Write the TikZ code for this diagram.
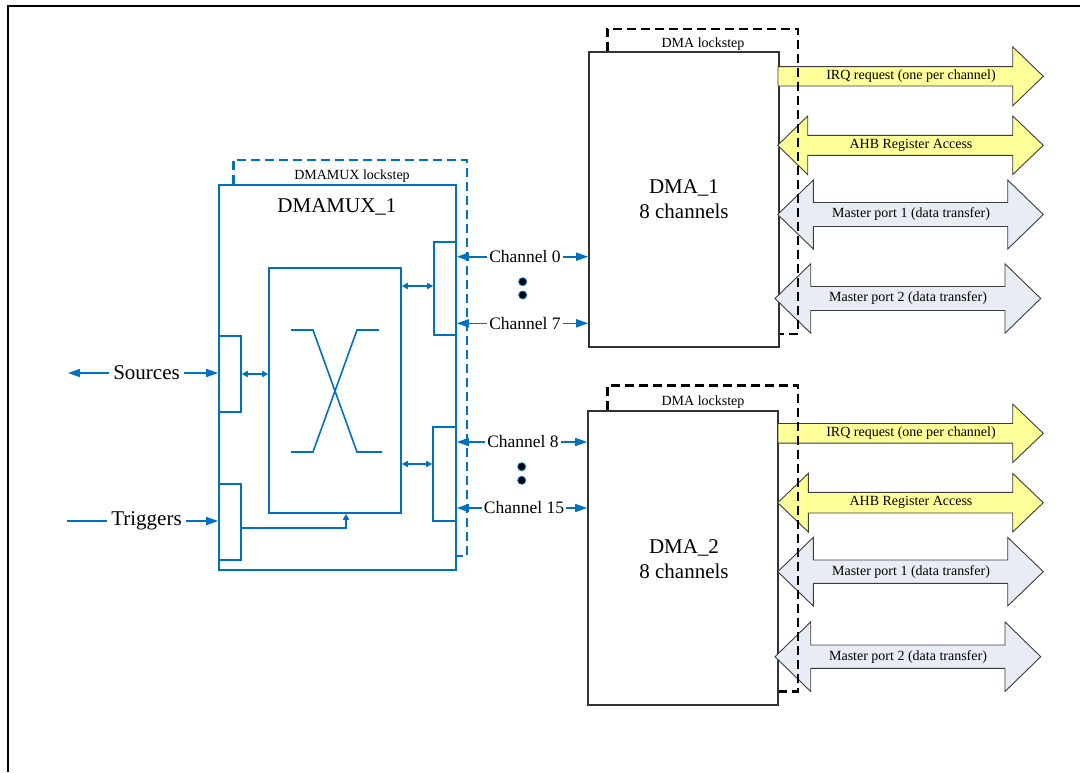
\documentclass[tikz,border=0pt]{standalone}
\usepackage{fontspec}
\setmainfont{Liberation Serif}
\usetikzlibrary{arrows.meta,calc}
\definecolor{mblue}{RGB}{0,112,192}
\definecolor{yfill}{RGB}{255,255,153}
\definecolor{gfill}{RGB}{232,237,245}
\definecolor{aline}{RGB}{60,60,60}
% double block arrow: style, x1 x2 x3 x4, yc, half body, half head
\newcommand\mydblarrow[8]{%
  \draw[#1] (#2,#6) -- (#3,{#6-#8}) -- (#3,{#6-#7}) -- (#4,{#6-#7}) -- (#4,{#6-#8})
    -- (#5,#6) -- (#4,{#6+#8}) -- (#4,{#6+#7}) -- (#3,{#6+#7}) -- (#3,{#6+#8}) -- cycle;}
% single block arrow: style, x1 x3 x4, yc, half body, half head
\newcommand\mysglarrow[7]{%
  \draw[#1] (#2,{#5-#6}) -- (#3,{#5-#6}) -- (#3,{#5-#7}) -- (#4,#5)
    -- (#3,{#5+#7}) -- (#3,{#5+#6}) -- (#2,{#5+#6}) -- cycle;}
\begin{document}
\begin{tikzpicture}[x=1pt,y=-1pt,
  bl/.style={draw=mblue, line width=1.6pt},
  mbox/.style={bl, rectangle, inner sep=0pt},
  bdash/.style={draw=mblue, line width=2.6pt, dash pattern=on 9pt off 5pt},
  kdash/.style={draw=black, line width=2.6pt, dash pattern=on 9pt off 5pt},
  kbox/.style={draw=black!80, line width=1.6pt, rectangle, inner sep=0pt},
  arrbig/.style={bl, -{Triangle[length=12pt,width=8pt]}},
  arrsm/.style={bl, {Triangle[length=6pt,width=6pt]}-{Triangle[length=6pt,width=6pt]}},
  arrup/.style={bl, -{Triangle[length=6pt,width=6pt]}},
  yarr/.style={fill=yfill, draw=aline, line width=0.9pt, line join=miter},
  garr/.style={fill=gfill, draw=aline, line width=0.9pt, line join=miter},
  big/.style={font=\fontsize{21}{25}\selectfont, align=center},
  chl/.style={font=\fontsize{17.5}{20}\selectfont, inner sep=2pt},
  sml/.style={font=\fontsize{14}{16}\selectfont, inner sep=1pt},
  iol/.style={font=\fontsize{21}{25}\selectfont, inner sep=4pt},
  dotn/.style={circle, fill=black, draw=mblue, line width=0.8pt, minimum size=8pt, inner sep=0pt}
]
\useasboundingbox (0,0) rectangle (1080,772);
% frame
\draw[line width=2pt] (8,772) -- (8,6) -- (1080,6);

% ---------------- DMAMUX ----------------
\node[mbox, minimum width=237pt, minimum height=385pt] (mux) at (337.5,377.5) {};
\node[mbox, minimum width=132pt, minimum height=245pt] (xbar) at (335,390.5) {};
\node[mbox, minimum width=22pt, minimum height=93pt] (pur) at (445,288.5) {};
\node[mbox, minimum width=23pt, minimum height=94pt] (plr) at (444.5,474) {};
\node[mbox, minimum width=22pt, minimum height=76pt] (psrc) at (230,374) {};
\node[mbox, minimum width=22pt, minimum height=76pt] (ptrg) at (230,522) {};
\node[big] (muxt) at (337,207) {DMAMUX\_1};
\node[sml] (muxls) at (352,176) {DMAMUX lockstep};
\draw[bdash] ([xshift=15pt]mux.north west) |- (467,160) |- ([yshift=15pt]mux.south east);

% crossbar symbol
\draw[bl] (291,330) -- (313,330) -- (357,452) -- (382,452);
\draw[bl] (291,452) -- (313,452) -- (357,330) -- (379,330);

% internal arrows
\draw[arrsm] (xbar.east |- 0,286) -- (pur.west |- 0,286);
\draw[arrsm] (xbar.east |- 0,464) -- (plr.west |- 0,464);
\draw[arrsm] (psrc.east) -- (xbar.west |- psrc.east);
\draw[arrup] ([yshift=-6pt]ptrg.east) -| ([xshift=11pt]xbar.south);

% sources / triggers
\node[iol] (src) at (146.5,373) {Sources};
\node[iol] (trg) at (146.5,521) {Triggers};
\coordinate (srcout) at (68,373);
\coordinate (trgin) at (67,521);
\draw[arrbig] (src.west) -- (srcout);
\draw[arrbig] (src.east) -- (psrc.west |- src.east);
\draw[bl] (trgin) -- (trg.west);
\draw[arrbig] (trg.east) -- (ptrg.west |- trg.east);

% ---------------- DMA boxes ----------------
\node[kbox, minimum width=190pt, minimum height=295pt] (dma1) at (684,199.5) {};
\node[kbox, minimum width=190pt, minimum height=294pt] (dma2) at (683,558) {};
\node[big] (dma1t) at (684,199.5) {DMA\_1\\8 channels};
\node[big] (dma2t) at (684,559.5) {DMA\_2\\8 channels};
\node[sml] (ls1) at (703,44) {DMA lockstep};
\node[sml] (ls2) at (703,401.7) {DMA lockstep};

% channels
\node[chl] (ch0) at (525,256.7) {Channel 0};
\node[chl] (ch7) at (525,323.3) {Channel 7};
\node[chl] (ch8) at (523,442) {Channel 8};
\node[chl] (ch15) at (524,508) {Channel 15};
\foreach \c/\d in {ch0/dma1, ch7/dma1, ch8/dma2, ch15/dma2}{
  \draw[arrbig] (\c.west) -- (mux.east |- \c.west);
  \draw[arrbig] (\c.east) -- (\d.west |- \c.east);
}
\node[dotn] (dt1) at (522.7,281.7) {};
\node[dotn] (dt2) at (522.7,295) {};
\node[dotn] (dt3) at (521.7,466.7) {};
\node[dotn] (dt4) at (521.7,480.3) {};

% ---------------- block arrows DMA_1 ----------------
\mysglarrow{yarr}{778}{1012.7}{1043.3}{76.3}{9.7}{29.5}
\mydblarrow{yarr}{777.7}{807.7}{1012.7}{1043.3}{145.3}{10}{29.3}
\mydblarrow{garr}{777.7}{813.3}{1007.7}{1043.3}{214.5}{12}{34.5}
\mydblarrow{garr}{775}{810.7}{1005}{1040.7}{298.5}{12}{34.7}
\node[sml] (irq1) at (911,76.3) {IRQ request (one per channel)};
\node[sml] (ahb1) at (911,145.3) {AHB Register Access};
\node[sml] (mp11) at (911,214.5) {Master port 1 (data transfer)};
\node[sml] (mp21) at (908,298.5) {Master port 2 (data transfer)};

% ---------------- block arrows DMA_2 ----------------
\mysglarrow{yarr}{778}{1012.7}{1043.3}{433.3}{9.8}{29.2}
\mydblarrow{yarr}{777.7}{808.3}{1012.7}{1043.3}{502.7}{10.3}{29.3}
\mydblarrow{garr}{777.7}{813.3}{1007.7}{1043.3}{571.7}{11.7}{34.3}
\mydblarrow{garr}{775}{810.7}{1005}{1040.7}{656.7}{11.7}{34.8}
\node[sml] (irq2) at (911,433.3) {IRQ request (one per channel)};
\node[sml] (ahb2) at (911,502.7) {AHB Register Access};
\node[sml] (mp12) at (911,571.7) {Master port 1 (data transfer)};
\node[sml] (mp22) at (908,656.7) {Master port 2 (data transfer)};

% DMA lockstep dashed outlines
\draw[kdash] ([xshift=19pt]dma1.north west) |- (798,29) |- ([yshift=14pt]dma1.south east);
\draw[kdash] ([xshift=20pt]dma2.north west) |- (798,385.7) |- ([yshift=14.3pt]dma2.south east);
\end{tikzpicture}
\end{document}
